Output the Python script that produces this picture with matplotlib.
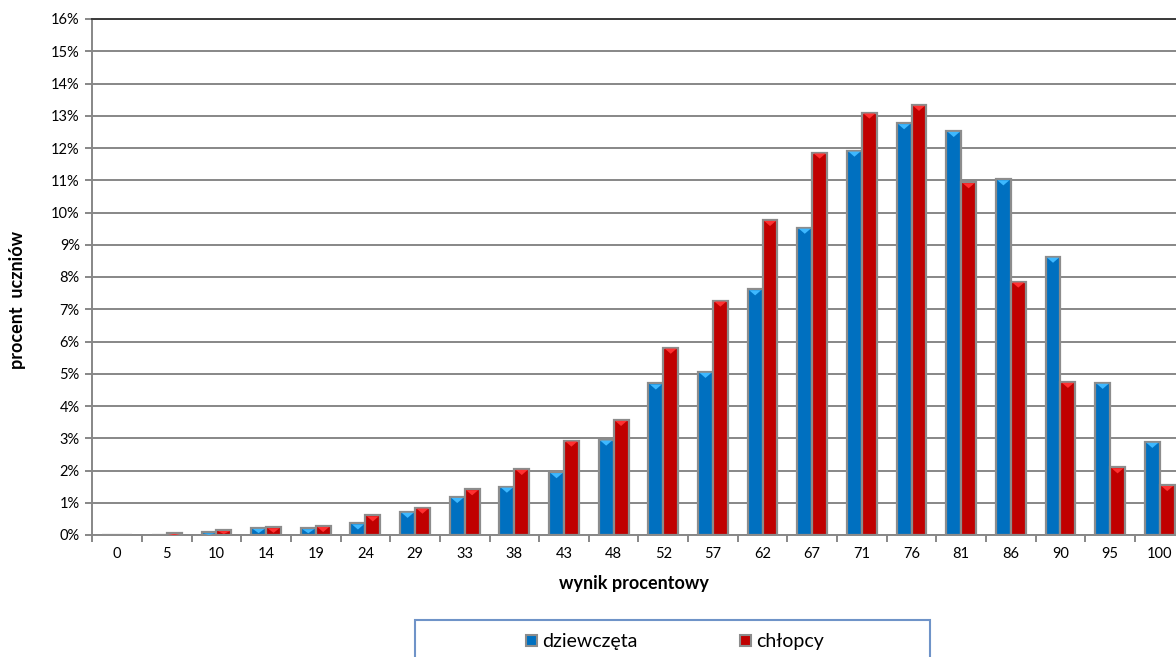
import numpy as np
import matplotlib
matplotlib.use("Agg")
import matplotlib.pyplot as plt
from matplotlib.patches import Rectangle

categories = ["0", "5", "10", "14", "19", "24", "29", "33", "38", "43", "48",
              "52", "57", "62", "67", "71", "76", "81", "86", "90", "95", "100"]
dziewczeta = [0.0, 0.01, 0.08, 0.22, 0.21, 0.36, 0.72, 1.18, 1.50, 1.95, 2.96,
              4.70, 5.06, 7.62, 9.53, 11.92, 12.77, 12.53, 11.03, 8.63, 4.72, 2.89]
chlopcy = [0.0, 0.06, 0.15, 0.24, 0.28, 0.61, 0.85, 1.42, 2.05, 2.93, 3.57,
           5.81, 7.27, 9.77, 11.86, 13.10, 13.34, 10.94, 7.86, 4.75, 2.10, 1.55]
yticks = list(range(0, 17))
series_names = ["dziewczęta", "chłopcy"]

plt.rcParams['font.family'] = ['Lato', 'DejaVu Sans']

W, H = 1176, 657
fig = plt.figure(figsize=(W / 100, H / 100), dpi=100)
ax_left, ax_right, ax_top, ax_bottom = 92.3, 1184.6, 19, 535
ax = fig.add_axes([ax_left / W, 1 - ax_bottom / H, (ax_right - ax_left) / W, (ax_bottom - ax_top) / H])

blue, blue_l = "#0070C0", "#3DB8FF"
red, red_l = "#C00000", "#FF3030"
edge = "#8C8C8C"

x = np.arange(len(categories))
w = 0.30
ax.set_axisbelow(True)
for vals, off, c, cl in [(dziewczeta, -w / 2, blue, blue_l), (chlopcy, w / 2, red, red_l)]:
    ax.bar(x + off, vals, w, color=c, edgecolor=edge, linewidth=1.6, zorder=3)
    for xi, v in zip(x + off, vals):
        if v <= 0:
            continue
        h = min(0.16, v * 0.6)
        ax.fill([xi - w / 2 + 0.03, xi + w / 2 - 0.03, xi], [v - 0.03, v - 0.03, v - 0.03 - h],
                color=cl, zorder=4, linewidth=0)

ax.set_xlim(-0.5, len(categories) - 0.5)
ax.set_ylim(0, 16)
ax.set_yticks(yticks)
ax.set_yticklabels([f"{t}%" for t in yticks], fontsize=10.5)
ax.yaxis.grid(True, color="#878787", linewidth=1.4)
ax.set_xticks(np.arange(-0.5, len(categories), 1.0))
ax.set_xticklabels([])
ax.set_xticks(x, minor=True)
ax.set_xticklabels(categories, minor=True, fontsize=10.5)
ax.tick_params(axis="x", which="major", length=5, width=1.4, color="#878787", direction="out")
ax.tick_params(axis="x", which="minor", length=0, pad=9)
ax.tick_params(axis="y", length=5, width=1.4, color="#878787", pad=4)
ax.spines["right"].set_visible(False)
ax.spines["left"].set_color("#878787")
ax.spines["left"].set_linewidth(1.4)
ax.spines["bottom"].set_color("#878787")
ax.spines["bottom"].set_linewidth(1.4)
ax.spines["top"].set_color("#3a3a3a")
ax.spines["top"].set_linewidth(1.4)

fig.text(634 / W, 1 - 583 / H, "wynik procentowy", ha="center", va="center",
         fontsize=13, fontweight="bold")
fig.text(18 / W, 1 - 300 / H, "procent  uczniów", ha="center", va="center", rotation=90,
         fontsize=13, fontweight="bold")

# legend
fig.patches.append(Rectangle((415 / W, -0.05), (930 - 415) / W, 0.05 + 1 - 620 / H,
                             transform=fig.transFigure, fill=False, edgecolor="#6F93C8",
                             linewidth=1.5))
handles = [Rectangle((0, 0), 1, 1, facecolor=blue, edgecolor=edge, linewidth=1.5),
           Rectangle((0, 0), 1, 1, facecolor=red, edgecolor=edge, linewidth=1.5)]
fig.legend(handles, series_names, loc="center", bbox_to_anchor=(675 / W, 1 - 642 / H), ncol=2,
           frameon=False, fontsize=14, handlelength=0.55, handleheight=0.55, handletextpad=0.25,
           columnspacing=5.3)

fig.savefig("out.png", dpi=100)
